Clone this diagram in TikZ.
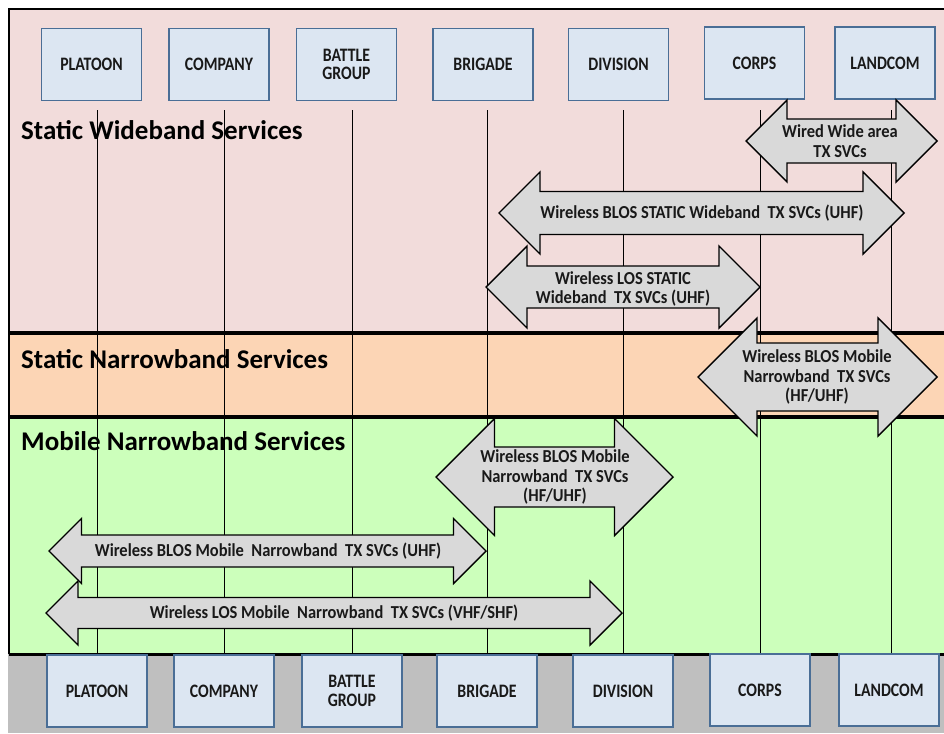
\documentclass[tikz,border=0pt]{standalone}
\usepackage{fontspec}
\setmainfont{Carlito}
\newfontfamily\unitfont[FakeStretch=0.83]{Carlito}
\newfontfamily\svcfont[FakeStretch=0.9]{Carlito}
\definecolor{swpink}{HTML}{F2DCDB}
\definecolor{snorange}{HTML}{FCD5B5}
\definecolor{mngreen}{HTML}{CCFFBB}
\definecolor{baygray}{HTML}{BFBFBF}
\definecolor{unitfill}{HTML}{DCE6F2}
\definecolor{unitedge}{HTML}{4A6E96}
\definecolor{svcfill}{HTML}{D9D9D9}
\tikzset{
  unit/.style={draw=unitedge, fill=unitfill, line width=1.6pt, minimum width=100pt,
    minimum height=72pt, align=center, text=black!90,
    font=\unitfont\bfseries\fontsize{19}{18.7}\selectfont},
  bandtitle/.style={anchor=west, inner sep=0pt, font=\bfseries\fontsize{27}{30}\selectfont},
  svc/.style={draw=black, fill=svcfill, line width=1.4pt, line join=miter},
  svctext/.style={align=center, inner sep=0pt, text=black!90,
    font=\svcfont\bfseries\fontsize{18.3}{19.5}\selectfont},
}
% double block arrow: left tip, right tip, centre y, head half, shaft half
\newcommand{\svcarrow}[5]{%
  \draw[svc] (#1,#3) -- ({#1+#4},{#3-#4}) -- ({#1+#4},{#3-#5}) -- ({#2-#4},{#3-#5})
    -- ({#2-#4},{#3-#4}) -- (#2,#3) -- ({#2-#4},{#3+#4}) -- ({#2-#4},{#3+#5})
    -- ({#1+#4},{#3+#5}) -- ({#1+#4},{#3+#4}) -- cycle;}
\begin{document}
\begin{tikzpicture}[x=1pt, y=-1pt]
  \useasboundingbox (0,0) rectangle (944,733);
  % bands
  \fill[swpink] (9,9) rectangle (944,333);
  \fill[snorange] (9,333) rectangle (944,417);
  \fill[mngreen] (9,417) rectangle (944,654);
  \fill[baygray] (8,654) rectangle (944,733);
  \draw[line width=2pt] (9,654) -- (9,9) -- (944,9);
  \draw[line width=4pt] (9,333) -- (944,333);
  \draw[line width=4pt] (9,417) -- (944,417);
  \draw[line width=3pt] (9,654) -- (944,654);

  \node[bandtitle] (swTitle) at (21,130) {Static Wideband Services};
  \node[bandtitle] (snTitle) at (21,359) {Static Narrowband Services};
  \node[bandtitle] (mnTitle) at (21,441) {Mobile Narrowband Services};

  % units, top row
  \node[unit] (platoonT) at (91.5,64.5) {PLATOON};
  \node[unit] (companyT) at (219,64.5) {COMPANY};
  \node[unit] (battleT) at (346.5,64.5) {BATTLE\\GROUP};
  \node[unit] (brigadeT) at (483,64.5) {BRIGADE};
  \node[unit] (divisionT) at (618.5,64.5) {DIVISION};
  \node[unit] (corpsT) at (754.5,63) {CORPS};
  \node[unit] (landcomT) at (885,63) {LANDCOM};

  % units, bottom row
  \node[unit] (platoonB) at (97,691) {PLATOON};
  \node[unit] (companyB) at (224,691) {COMPANY};
  \node[unit] (battleB) at (352,691) {BATTLE\\GROUP};
  \node[unit] (brigadeB) at (487,691) {BRIGADE};
  \node[unit] (divisionB) at (623,691) {DIVISION};
  \node[unit] (corpsB) at (760,690) {CORPS};
  \node[unit] (landcomB) at (889,690) {LANDCOM};

  % drop lines
  \coordinate (top) at (0,110);
  \draw (platoonB.north) -- (platoonB.north |- top);
  \draw (companyB.north) -- (companyB.north |- top);
  \draw (battleB.north) -- (battleB.north |- top);
  \draw (brigadeB.north) -- (brigadeB.north |- top);
  \draw (divisionB.north) -- (divisionB.north |- top);
  \draw (corpsB.north) -- (corpsB.north |- top);
  \draw ([xshift=2pt]landcomB.north) -- ([xshift=2pt]landcomB.north |- top);

  % services
  \svcarrow{746}{937}{141}{41}{22}
  \node[svctext] (wired) at (840,141) {Wired Wide area\\TX SVCs};
  \svcarrow{499}{904}{213}{41}{21.5}
  \node[svctext] (blosStatic) at (702,213) {Wireless BLOS STATIC Wideband\ \ TX SVCs (UHF)};
  \svcarrow{486}{760}{287}{41}{21}
  \node[svctext] (losStatic) at (623,289) {Wireless LOS STATIC\\Wideband\ \ TX SVCs (UHF)};
  \svcarrow{698}{937}{377}{59}{34}
  \node[svctext] (blosMobHi) at (817,377) {Wireless BLOS Mobile\\Narrowband\ \ TX SVCs\\(HF/UHF)};
  \svcarrow{436}{673}{477}{58.5}{30}
  \node[svctext] (blosMobLo) at (555,477) {Wireless BLOS Mobile\\Narrowband\ \ TX SVCs\\(HF/UHF)};
  \svcarrow{49}{486}{551}{32.5}{16}
  \node[svctext] (blosMobUhf) at (268,551) {Wireless BLOS Mobile\ \ Narrowband\ \ TX SVCs (UHF)};
  \svcarrow{46}{622}{613}{32}{15.5}
  \node[svctext] (losMob) at (334,613) {Wireless LOS Mobile\ \ Narrowband\ \ TX SVCs (VHF/SHF)};
\end{tikzpicture}
\end{document}
